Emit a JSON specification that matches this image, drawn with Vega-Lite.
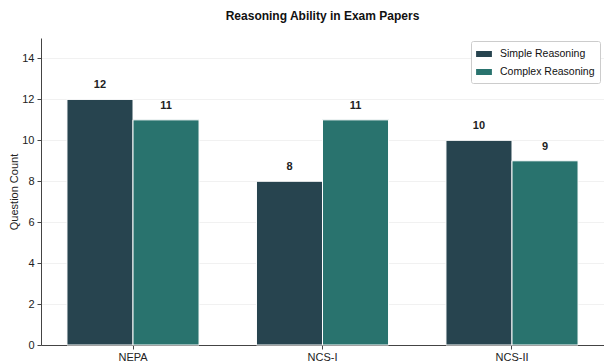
{
  "$schema": "https://vega.github.io/schema/vega-lite/v6.json",
  "width": 563,
  "height": 307,
  "autosize": "none",
  "padding": {"left": 41, "top": 38, "right": 0, "bottom": 16},
  "background": "white",
  "config": {
    "font": "Liberation Sans",
    "view": {"stroke": null},
    "axis": {"labelFont": "Liberation Sans", "titleFont": "Liberation Sans"}
  },
  "title": {
    "text": "Reasoning Ability in Exam Papers",
    "fontSize": 12,
    "fontWeight": "bold",
    "color": "#111111",
    "anchor": "middle",
    "offset": 15
  },
  "data": {
    "values": [
      {"paper": "NEPA", "type": "Simple Reasoning", "count": 12},
      {"paper": "NEPA", "type": "Complex Reasoning", "count": 11},
      {"paper": "NCS-I", "type": "Simple Reasoning", "count": 8},
      {"paper": "NCS-I", "type": "Complex Reasoning", "count": 11},
      {"paper": "NCS-II", "type": "Simple Reasoning", "count": 10},
      {"paper": "NCS-II", "type": "Complex Reasoning", "count": 9}
    ]
  },
  "encoding": {
    "x": {
      "field": "paper",
      "type": "nominal",
      "sort": ["NEPA", "NCS-I", "NCS-II"],
      "scale": {"paddingInner": 0.303, "paddingOuter": 0.137},
      "axis": {
        "title": null,
        "labelAngle": 0,
        "labelFontSize": 11,
        "labelColor": "#222222",
        "labelPadding": 2,
        "domainColor": "#444444",
        "tickColor": "#444444",
        "tickSize": 4,
        "grid": false
      }
    },
    "xOffset": {
      "field": "type",
      "type": "nominal",
      "sort": ["Simple Reasoning", "Complex Reasoning"],
      "scale": {"paddingInner": 0, "paddingOuter": 0}
    },
    "y": {
      "field": "count",
      "type": "quantitative",
      "scale": {"domain": [0, 15], "nice": false},
      "axis": {
        "title": "Question Count",
        "titleFontSize": 11,
        "titleFontWeight": "normal",
        "titleColor": "#222222",
        "titlePadding": 2,
        "values": [0, 2, 4, 6, 8, 10, 12, 14],
        "labelFontSize": 11,
        "labelColor": "#222222",
        "labelPadding": 3,
        "domainColor": "#444444",
        "tickColor": "#444444",
        "tickSize": 4,
        "gridColor": "#eeeeee",
        "gridWidth": 0.8
      }
    }
  },
  "layer": [
    {
      "mark": {"type": "bar", "stroke": "white", "strokeWidth": 1},
      "encoding": {
        "color": {
          "field": "type",
          "type": "nominal",
          "sort": ["Simple Reasoning", "Complex Reasoning"],
          "scale": {
            "domain": ["Simple Reasoning", "Complex Reasoning"],
            "range": ["#27444f", "#29736e"]
          },
          "legend": {
            "title": null,
            "orient": "none",
            "legendX": 430,
            "legendY": 3,
            "labelFontSize": 10.5,
            "labelColor": "#111111",
            "symbolType": "M-1,-0.38H1V0.38H-1Z",
            "symbolSize": 250,
            "symbolStrokeWidth": 0,
            "symbolOpacity": 1,
            "rowPadding": 4,
            "labelOffset": 8,
            "strokeColor": "#cccccc",
            "fillColor": "white",
            "cornerRadius": 2,
            "padding": 5
          }
        }
      }
    },
    {
      "mark": {
        "type": "text",
        "baseline": "bottom",
        "dy": -9,
        "fontSize": 11,
        "fontWeight": "bold",
        "color": "#222222"
      },
      "encoding": {
        "text": {"field": "count", "type": "quantitative"}
      }
    }
  ]
}
